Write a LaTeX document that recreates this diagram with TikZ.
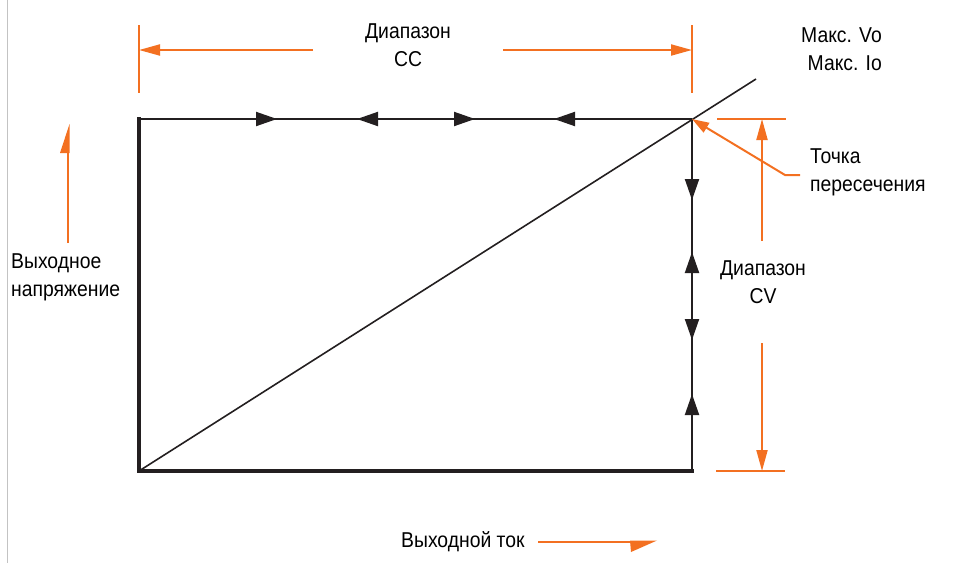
\documentclass[tikz,border=0pt]{standalone}
\usepackage{fontspec}
\setmainfont{Liberation Sans}[FakeStretch=0.9]
\usetikzlibrary{arrows.meta,decorations.markings}
\definecolor{orng}{RGB}{243,112,33}
\definecolor{blk}{RGB}{35,31,32}
\definecolor{frame}{RGB}{195,195,195}
\tikzset{
  blktri/.tip={Triangle[length=21pt,width=14pt]},
  orgtri/.tip={Triangle[length=21pt,width=11pt]},
}
\begin{document}
\begin{tikzpicture}[x=1pt,y=-1pt,
  lbl/.style={inner sep=0pt, font=\fontsize{21.5}{28.5}\selectfont, text=black},
  dim/.style={draw=orng, line width=2pt},
  dimarrow/.style={dim, -{orgtri}},
  thinedge/.style={draw=blk, line width=2pt},
  thickedge/.style={draw=blk, line width=4pt},
]
\useasboundingbox (0,0) rectangle (974,563);
% light frame line on the left
\draw[frame, line width=1.5pt] (7.5,0) -- (7.5,563);

% rectangle corners
\coordinate (O) at (139,471);
\coordinate (TL) at (139,119);
\coordinate (TR) at (692,119);
\coordinate (BR) at (692,471);
\coordinate (D) at (756,79);

% diagonal load line
\draw[blk, line width=1.6pt] (O) -- (D);

% top edge with markers
\draw[thinedge, postaction={decorate}, decoration={markings,
  mark=at position 138pt with {\arrow[blk]{blktri}},
  mark=at position 218pt with {\arrowreversed[blk]{blktri}},
  mark=at position 336pt with {\arrow[blk]{blktri}},
  mark=at position 415pt with {\arrowreversed[blk]{blktri}}}] (TL) -- (TR);
% right edge with markers
\draw[thinedge, postaction={decorate}, decoration={markings,
  mark=at position 81pt with {\arrow[blk]{blktri}},
  mark=at position 133pt with {\arrowreversed[blk]{blktri}},
  mark=at position 221pt with {\arrow[blk]{blktri}},
  mark=at position 275pt with {\arrowreversed[blk]{blktri}}}] (TR) -- (BR);
% thick left and bottom edges
\draw[thickedge, line cap=rect] (TL) -- (O) -- (BR);

% CC range dimension
\coordinate (ccl1) at (139,25); \coordinate (ccl2) at (139,93);
\coordinate (ccr1) at (692,25); \coordinate (ccr2) at (692,93);
\coordinate (cca) at (313,50); \coordinate (ccb) at (503,50);
\coordinate (ccla) at (139,50); \coordinate (ccra) at (692,50);
\draw[dim] (ccl1) -- (ccl2);
\draw[dim] (ccr1) -- (ccr2);
\draw[dimarrow] (cca) -- (ccla);
\draw[dimarrow] (ccb) -- (ccra);
\node[lbl, align=center] (cc) at (408,45) {Диапазон\\CC};

% CV range dimension
\coordinate (cvt1) at (717,119); \coordinate (cvt2) at (786,119);
\coordinate (cvb1) at (716,471); \coordinate (cvb2) at (785,471);
\coordinate (cva) at (762,241); \coordinate (cvta) at (762,119);
\coordinate (cvb) at (762,343); \coordinate (cvba) at (762,471);
\draw[dim] (cvt1) -- (cvt2);
\draw[dim] (cvb1) -- (cvb2);
\draw[dimarrow] (cva) -- (cvta);
\draw[dimarrow] (cvb) -- (cvba);
\node[lbl, align=center] (cv) at (763,282) {Диапазон\\CV};

% max labels
\node[lbl, align=right, anchor=east] (max) at (882,49) {Макс. Vo\\Макс. Io};

% intersection point pointer
\node[lbl, align=left, anchor=west] (ip) at (810,172.5) {Точка\\пересечения};
\coordinate (pa) at (800,175);
\coordinate (pb) at (785,175);
\draw[dim, -{Triangle[length=17pt,width=11pt]}] (pa) -- (pb) -- (TR);

% output voltage axis
\node[lbl, align=left, anchor=west] (vout) at (11,277.5) {Выходное\\напряжение};
\coordinate (va) at (68,243); \coordinate (vb) at (68,140);
\draw[dim] (va) -- (vb);
\fill[orng] (69.5,124) -- (60,153) -- (69.5,153) -- cycle;

% output current axis
\node[lbl, anchor=west] (iout) at (401,542) {Выходной ток};
\coordinate (ia) at (538,542); \coordinate (ib) at (640,542);
\draw[dim] (ia) -- (ib);
\fill[orng] (630,540.5) -- (657,540.5) -- (631,552) -- cycle;
\end{tikzpicture}
\end{document}
